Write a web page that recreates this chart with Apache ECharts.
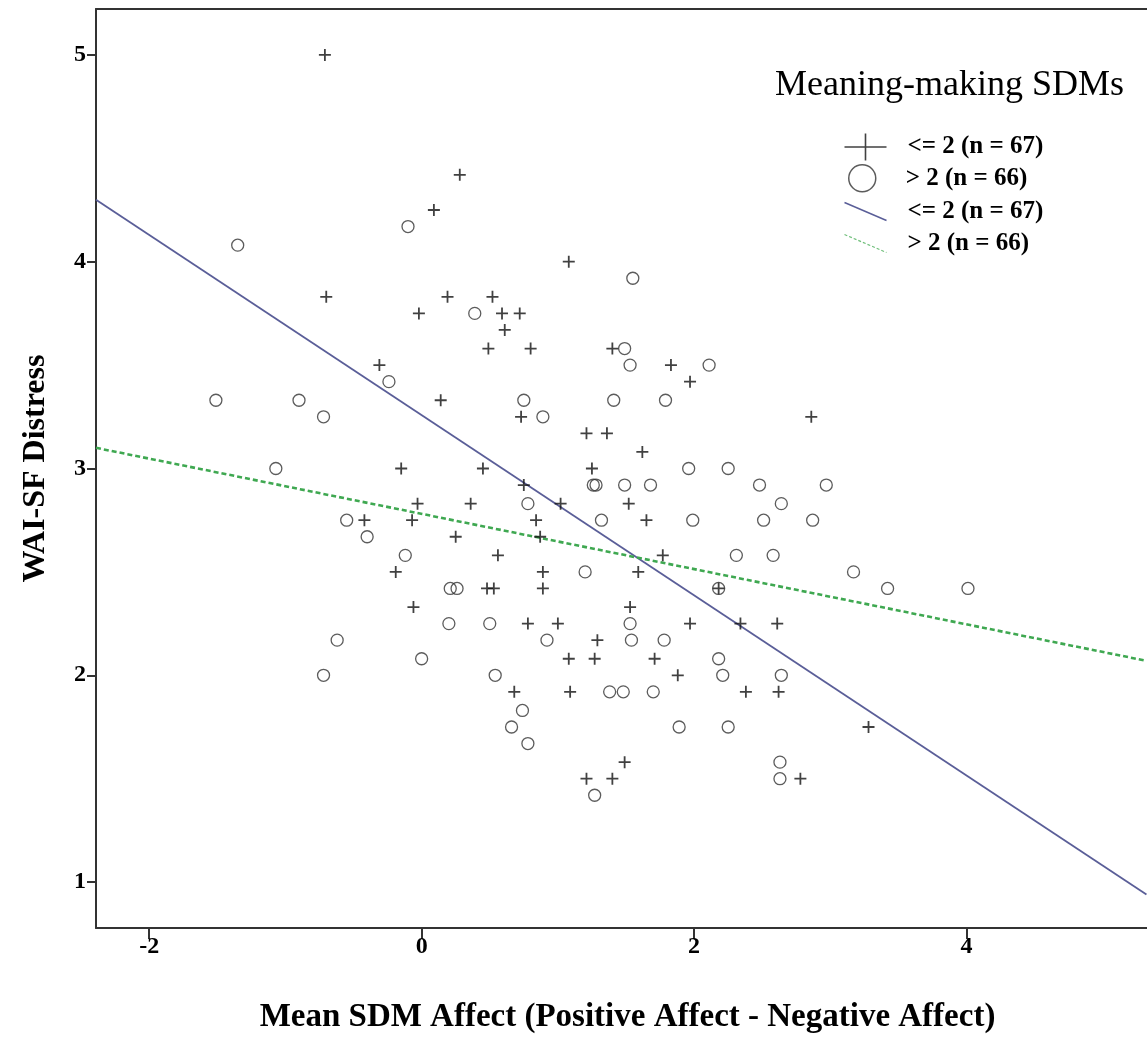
<!DOCTYPE html>
<html>
<head>
<meta charset="utf-8">
<script src="https://cdn.jsdelivr.net/npm/echarts@6/dist/echarts.min.js"></script>
<style>
  html, body { margin: 0; padding: 0; background: #fff; }
  #chart { width: 1147px; height: 1040px; }
</style>
</head>
<body>
<div id="chart"></div>
<script>
const xTicks = [-2, 0, 2, 4];
const yTicks = [1, 2, 3, 4, 5];

// Meaning-making SDMs <= 2 (plus markers)
const lowGroup = [
  [-0.71, 5.00], [0.28, 4.42], [0.09, 4.25], [-0.70, 3.83], [0.19, 3.83], [0.52, 3.83],
  [1.08, 4.00], [-0.02, 3.75], [0.59, 3.75], [0.72, 3.75], [0.61, 3.67], [0.49, 3.58],
  [0.80, 3.58], [1.40, 3.58], [-0.31, 3.50], [1.83, 3.50], [1.97, 3.42], [0.14, 3.33],
  [0.73, 3.25], [2.86, 3.25], [1.21, 3.17], [1.36, 3.17], [1.62, 3.08], [-0.15, 3.00],
  [0.45, 3.00], [1.25, 3.00], [0.75, 2.92], [-0.03, 2.83], [0.36, 2.83], [1.02, 2.83],
  [1.52, 2.83], [-0.42, 2.75], [-0.07, 2.75], [0.84, 2.75], [1.65, 2.75], [0.25, 2.67],
  [0.87, 2.67], [0.56, 2.58], [1.77, 2.58], [-0.19, 2.50], [0.89, 2.50], [1.59, 2.50],
  [0.48, 2.42], [0.53, 2.42], [0.89, 2.42], [2.18, 2.42], [-0.06, 2.33], [1.53, 2.33],
  [0.78, 2.25], [1.00, 2.25], [1.97, 2.25], [2.34, 2.25], [2.61, 2.25], [1.29, 2.17],
  [1.08, 2.08], [1.27, 2.08], [1.71, 2.08], [1.88, 2.00], [0.68, 1.92], [1.09, 1.92],
  [2.38, 1.92], [2.62, 1.92], [3.28, 1.75], [1.49, 1.58], [1.21, 1.50], [1.40, 1.50],
  [2.78, 1.50]
];

// Meaning-making SDMs > 2 (circle markers)
const highGroup = [
  [-0.10, 4.17], [-1.35, 4.08], [0.39, 3.75], [1.55, 3.92], [-0.24, 3.42], [-1.51, 3.33],
  [-0.90, 3.33], [-0.72, 3.25], [-1.07, 3.00], [-0.55, 2.75], [-0.40, 2.67], [-0.12, 2.58],
  [0.21, 2.42], [0.26, 2.42], [0.20, 2.25], [0.50, 2.25], [-0.62, 2.17], [0.00, 2.08],
  [-0.72, 2.00], [0.54, 2.00], [1.49, 3.58], [1.53, 3.50], [2.11, 3.50], [0.75, 3.33],
  [1.41, 3.33], [1.79, 3.33], [0.89, 3.25], [1.96, 3.00], [2.25, 3.00], [1.26, 2.92],
  [1.28, 2.92], [1.49, 2.92], [1.68, 2.92], [2.48, 2.92], [2.97, 2.92], [0.78, 2.83],
  [2.64, 2.83], [1.32, 2.75], [1.99, 2.75], [2.51, 2.75], [2.87, 2.75], [2.31, 2.58],
  [2.58, 2.58], [1.20, 2.50], [3.17, 2.50], [2.18, 2.42], [3.42, 2.42], [4.01, 2.42],
  [1.53, 2.25], [0.92, 2.17], [1.54, 2.17], [1.78, 2.17], [2.18, 2.08], [2.21, 2.00],
  [2.64, 2.00], [1.38, 1.92], [1.48, 1.92], [1.70, 1.92], [0.74, 1.83], [0.66, 1.75],
  [1.89, 1.75], [2.25, 1.75], [0.78, 1.67], [2.63, 1.58], [2.63, 1.50], [1.27, 1.42]
];

// fit line end points read at the plot edges
const lowFit = [[-2.39, 4.30], [5.32, 0.94]];
const highFit = [[-2.39, 3.10], [5.32, 2.07]];

const legendLabels = {
  low: "<= 2 (n = 67)",
  high: "> 2 (n = 66)",
  lowFit: "<= 2 (n = 67)",
  highFit: "> 2 (n = 66)",
};

const chart = echarts.init(document.getElementById("chart"));
const serif = '"Liberation Serif", "Times New Roman", serif';
const plusMark = "path://M0,6H12M6,0V12";
const frameLine = { show: true, onZero: false, lineStyle: { color: "#333", width: 2 } };

const legendRow = (name, icon, left, top, w, h, pad, itemStyle) => ({
  data: [{ name: name, icon: icon, itemStyle: itemStyle }],
  left: left,
  top: top,
  padding: 0,
  itemWidth: w,
  itemHeight: h,
  selectedMode: false,
  formatter: (n) => legendLabels[n],
  textStyle: {
    fontFamily: serif,
    fontWeight: "bold",
    fontSize: 25,
    color: "#000",
    padding: [0, 0, 0, pad],
  },
});

const option = {
  animation: false,
  backgroundColor: "#fff",
  title: {
    text: "Meaning-making SDMs",
    left: 775,
    top: 68,
    padding: 0,
    textStyle: {
      fontFamily: serif,
      fontWeight: "normal",
      fontSize: 36,
      color: "#000",
    },
  },
  legend: [
    legendRow("low", "path://M0,13.5H42M21,0V27", 842, 131, 42, 27, 16, {
      color: "none", borderColor: "#111", borderWidth: 1.6,
    }),
    legendRow("high", "circle", 848, 164, 27, 27, 25, {
      color: "rgba(255,255,255,0)", borderColor: "#333", borderWidth: 1.5,
    }),
    legendRow("lowFit", "path://M0,0L42,18", 842, 199, 42, 18, 16, {
      color: "none", borderColor: "#5a5e98", borderWidth: 1.5,
    }),
    legendRow("highFit", "path://M0,0L42,18", 842, 231, 42, 18, 16, {
      color: "none", borderColor: "#6fbf7a", borderWidth: 1.2, borderType: [3, 2],
    }),
  ],
  grid: {
    left: 96,
    top: 9,
    right: 0,
    bottom: 112,
  },
  xAxis: [
    {
      type: "value",
      min: -2.39,
      max: 5.324,
      name: "Mean SDM Affect (Positive Affect - Negative Affect)",
      nameLocation: "middle",
      nameGap: 73,
      nameTextStyle: {
        fontFamily: serif,
        fontWeight: "bold",
        fontSize: 33,
        color: "#000",
        padding: [0, 0, 0, 12],
      },
      axisLine: frameLine,
      axisTick: { show: true, length: 11, customValues: xTicks, lineStyle: { color: "#333", width: 2 } },
      axisLabel: {
        customValues: xTicks,
        margin: 7,
        fontFamily: serif,
        fontWeight: "bold",
        fontSize: 24,
        color: "#000",
      },
      splitLine: { show: false },
    },
    {
      // top edge of the frame only
      type: "value",
      position: "top",
      min: -2.39,
      max: 5.324,
      axisLine: frameLine,
      axisTick: { show: false },
      axisLabel: { show: false },
      splitLine: { show: false },
    },
  ],
  yAxis: {
    type: "value",
    min: 0.778,
    max: 5.222,
    name: "WAI-SF Distress",
    nameLocation: "middle",
    nameRotate: 90,
    nameGap: 44,
    nameTextStyle: {
      fontFamily: serif,
      fontWeight: "bold",
      fontSize: 32,
      color: "#000",
    },
    axisLine: frameLine,
    axisTick: { show: true, length: 9, customValues: yTicks, lineStyle: { color: "#333", width: 2 } },
    axisLabel: {
      customValues: yTicks,
      margin: 10,
      fontFamily: serif,
      fontWeight: "bold",
      fontSize: 24,
      color: "#000",
    },
    splitLine: { show: false },
  },
  series: [
    {
      name: "lowFit",
      type: "line",
      data: lowFit,
      symbol: "none",
      lineStyle: { color: "#5a5e98", width: 1.8 },
      z: 2,
    },
    {
      name: "highFit",
      type: "line",
      data: highFit,
      symbol: "none",
      lineStyle: { color: "#3fa851", width: 2.6, type: [5, 3] },
      z: 2,
    },
    {
      name: "low",
      type: "scatter",
      data: lowGroup,
      symbol: plusMark,
      symbolSize: 12,
      itemStyle: { color: "none", borderColor: "#111", borderWidth: 1.8 },
      z: 3,
    },
    {
      name: "high",
      type: "scatter",
      data: highGroup,
      symbol: "circle",
      symbolSize: 12,
      itemStyle: { color: "rgba(255,255,255,0)", borderColor: "#333", borderWidth: 1.3 },
      z: 3,
    },
  ],
};

chart.setOption(option);
</script>
</body>
</html>
